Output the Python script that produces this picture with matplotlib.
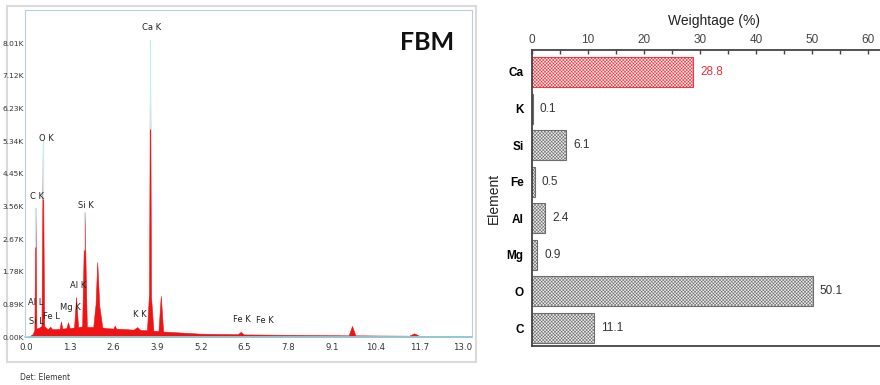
import matplotlib
matplotlib.use("Agg")
import matplotlib.pyplot as plt
from matplotlib.patches import Rectangle

# --- EDS spectrum, energy in keV, counts ---
spec_kev = [0.00, 0.10, 0.20, 0.25, 0.28, 0.31, 0.40, 0.46, 0.50, 0.54, 0.65, 0.72, 0.78,
            1.00, 1.04, 1.08, 1.20, 1.25, 1.30, 1.43, 1.49, 1.55, 1.67, 1.74, 1.81,
            2.00, 2.07, 2.12, 2.18, 2.27, 2.40, 2.60, 2.64, 2.68, 3.20, 3.31, 3.40,
            3.60, 3.66, 3.69, 3.72, 3.79, 3.94, 4.01, 4.08, 5.20, 6.30, 6.39, 6.48,
            9.60, 9.70, 9.80, 11.40, 11.55, 11.70, 13.00, 13.30]
spec_cts = [0, 20, 80, 200, 3520, 230, 260, 300, 5370, 300, 210, 280, 210,
            220, 420, 230, 240, 400, 240, 260, 1090, 270, 290, 3400, 280,
            270, 900, 2040, 850, 260, 240, 230, 310, 230, 200, 270, 190,
            185, 1200, 8090, 1100, 170, 165, 1120, 150, 90, 75, 140, 70,
            45, 300, 45, 35, 100, 32, 25, 25]

peak_labels = ["Ca K", "O K", "C K", "Si K", "Al K", "Al L", "Si L", "Fe L", "Mg K", "K K", "Fe K", "Fe K"]
label_kev = [3.75, 0.60, 0.33, 1.79, 1.55, 0.30, 0.30, 0.77, 1.31, 3.39, 6.43, 7.11]
label_cts = [8420, 5420, 3840, 3570, 1390, 950, 410, 545, 817, 600, 490, 436]
marker_kev = [3.69, 0.50, 0.28, 1.74]
marker_cts = [8090, 5370, 3520, 3400]

ytick_vals = [i * 890 for i in range(10)]
xtick_vals = [0.0, 1.3, 2.6, 3.9, 5.2, 6.5, 7.8, 9.1, 10.4, 11.7, 13.0]

# --- Weightage bar chart ---
elements = ["C", "O", "Mg", "Al", "Fe", "Si", "K", "Ca"]
weightage = [11.1, 50.1, 0.9, 2.4, 0.5, 6.1, 0.1, 28.8]

narrow = ["Liberation Sans Narrow", "DejaVu Sans"]
arial = ["Liberation Sans", "DejaVu Sans"]

plt.rcParams["hatch.linewidth"] = 0.4

fig = plt.figure(figsize=(8.8, 3.85), dpi=100)

# outer frame of the screenshot panel
fig.patches.append(Rectangle((7 / 880, 1 - 362 / 385), 469 / 880, 356 / 385,
                             transform=fig.transFigure, fill=False, zorder=-1,
                             edgecolor="#dadada", linewidth=1.5))

ax1 = fig.add_axes([25 / 880, 48 / 385, 447 / 880, 327 / 385])
ax1.fill_between(spec_kev, spec_cts, 0, color="#ee1416", linewidth=0.4, zorder=2)
ax1.vlines(marker_kev, [0.7 * c for c in marker_cts], marker_cts,
           color="#bfeef5", linewidth=0.9, zorder=3)
for t, x, y in zip(peak_labels, label_kev, label_cts):
    ax1.text(x, y, t, ha="center", va="center", fontsize=6, family=narrow, color="#222")
ax1.set_xlim(-0.03, 13.27)
ax1.set_ylim(0, 8910)
ax1.set_yticks(ytick_vals)
ax1.set_yticklabels([f"{v / 1000:.2f}K" for v in ytick_vals], family=narrow, fontsize=5.4)
ax1.set_xticks(xtick_vals)
ax1.set_xticklabels([f"{v:.1f}" for v in xtick_vals], family=narrow, fontsize=6.2)
ax1.tick_params(length=0, colors="#333")
ax1.tick_params(axis="y", pad=1)
ax1.tick_params(axis="x", pad=4)
for s in ["left", "top", "right"]:
    ax1.spines[s].set_color("#b7cfdc")
    ax1.spines[s].set_linewidth(0.8)
ax1.spines["bottom"].set_color("#86e0ee")
ax1.spines["bottom"].set_linewidth(1.2)
ax1.text(427 / 880, 1 - 42 / 385, "FBM", transform=fig.transFigure, ha="center", va="center",
         fontsize=18, fontweight="bold", family=["Lato", "DejaVu Sans"], color="#111")
fig.text(20 / 880, 1 - 378 / 385, "Det: Element", ha="left", va="center",
         fontsize=5.5, family=narrow, color="#333")

# right panel: weightage bars
ax2 = fig.add_axes([532 / 880, 39 / 385, 364 / 880, 296 / 385])
ypos = list(range(len(elements)))
for y, e, w in zip(ypos, elements, weightage):
    if e == "Ca":
        fc, ec, tc = "#fde6e6", "#ea3a42", "#e8333b"
    else:
        fc, ec, tc = "#ececec", "#6e6e6e", "#333333"
    ax2.barh(y, w, height=0.82, color=fc, edgecolor=ec, hatch="x" * 10, linewidth=0.8)
    ax2.text(w + 1.25, y, f"{w:.1f}", ha="left", va="center", fontsize=8.5,
             family=arial, color=tc)
ax2.set_xlim(0, 65)
ax2.set_ylim(-0.49, 7.6)
ax2.set_yticks(ypos)
ax2.set_yticklabels(elements, fontweight="bold", family=arial, fontsize=8.5)
ax2.tick_params(axis="y", length=0, pad=6)
ax2.xaxis.tick_top()
ax2.xaxis.set_label_position("top")
ax2.set_xticks(range(0, 61, 10))
ax2.set_xticks(range(5, 61, 10), minor=True)
ax2.set_xticklabels([str(v) for v in range(0, 61, 10)], family=arial, fontsize=8.5, color="#333")
ax2.tick_params(axis="x", which="both", direction="in", length=3, width=1, colors="#444", pad=3)
ax2.set_xlabel("Weightage (%)", family=arial, fontsize=10, labelpad=6, color="#222")
ax2.set_ylabel("Element", family=arial, fontsize=10, labelpad=4, color="#222")
for s in ["left", "top", "bottom", "right"]:
    ax2.spines[s].set_color("#444")
    ax2.spines[s].set_linewidth(1.3)

fig.savefig("out.png", dpi=100)
